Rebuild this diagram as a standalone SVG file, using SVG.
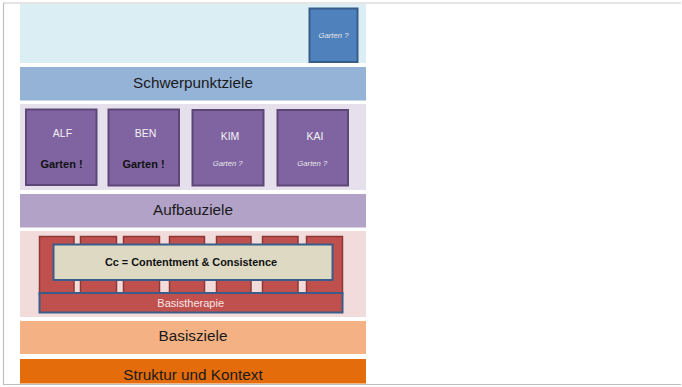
<svg xmlns="http://www.w3.org/2000/svg" width="682" height="387" viewBox="0 0 682 387">
<style>
text{font-family:"Liberation Sans",Arial,sans-serif;text-anchor:middle}
.band{font-size:15.3px;fill:#1a1a1a}
.person{fill:#8064a2;stroke:#5c4776;stroke-width:2}
.name{font-size:10.5px;fill:#f2f2f2}
.bold{font-size:11px;font-weight:bold;fill:#111}
.q{font-size:7.7px;font-style:italic;fill:#e6e6e6}
.brick{fill:#c0504d;stroke:#8c3836;stroke-width:1.5}
</style>
<rect x="0" y="0" width="682" height="387" fill="#fff"/>
<g id="frame">
<line x1="3" y1="3" x2="681" y2="3" stroke="#dcdcdc" stroke-width="1.5"/>
<line x1="3.5" y1="3" x2="3.5" y2="384.5" stroke="#c0c0c0" stroke-width="1.2"/>
<line x1="3" y1="384.5" x2="681" y2="384.5" stroke="#c0c0c0" stroke-width="1.2"/>
</g>
<g id="bands">
<rect id="top-band" x="20" y="4" width="346" height="59" fill="#daeef3"/>
<g id="schwerpunktziele"><rect x="20" y="67" width="346" height="33.5" fill="#95b3d7"/><text class="band" x="193" y="88">Schwerpunktziele</text></g>
<rect id="persons-band" x="20" y="104" width="346" height="86" fill="#e6e0ec"/>
<g id="aufbauziele"><rect x="20" y="194" width="346" height="33.5" fill="#b2a2c7"/><text class="band" x="193" y="214.5">Aufbauziele</text></g>
<rect id="therapy-band" x="20" y="231" width="346" height="86" fill="#f2dcdb"/>
<g id="basisziele"><rect x="20" y="321" width="346" height="33" fill="#f4b183"/><text class="band" x="193" y="340.5">Basisziele</text></g>
<g id="struktur"><rect x="20" y="359" width="346" height="24.5" fill="#e46c0a"/><text class="band" x="193" y="379.5">Struktur und Kontext</text></g>
</g>
<g id="garten-top"><rect x="309.5" y="8.5" width="48" height="53.5" fill="#4f81bd" stroke="#385d8a" stroke-width="2"/><text class="q" x="333.5" y="37.5">Garten ?</text></g>
<g id="alf"><rect class="person" x="26" y="109.5" width="70.5" height="75.5"/><text class="name" x="62.5" y="137.3">ALF</text><text class="bold" x="61.5" y="167.7">Garten !</text></g>
<g id="ben"><rect class="person" x="108.5" y="109.5" width="70.5" height="76"/><text class="name" x="145.5" y="137.3">BEN</text><text class="bold" x="143.5" y="167.7">Garten !</text></g>
<g id="kim"><rect class="person" x="192.5" y="110" width="71" height="75.5"/><text class="name" x="230" y="140">KIM</text><text class="q" x="227.7" y="165.7">Garten ?</text></g>
<g id="kai"><rect class="person" x="277.5" y="110" width="70.5" height="75.5"/><text class="name" x="315" y="140">KAI</text><text class="q" x="312.3" y="165.7">Garten ?</text></g>
<g id="bricks">
<rect class="brick" x="39.5" y="236.5" width="34.5" height="58"/>
<rect class="brick" x="80.5" y="236.5" width="36" height="58"/>
<rect class="brick" x="123.5" y="236.5" width="36" height="58"/>
<rect class="brick" x="169.5" y="236.5" width="35" height="58"/>
<rect class="brick" x="216.5" y="236.5" width="34.5" height="58"/>
<rect class="brick" x="262.5" y="236.5" width="35.5" height="58"/>
<rect class="brick" x="306.5" y="236.5" width="36" height="58"/>
</g>
<g id="cc"><rect x="53.5" y="244.5" width="279" height="35.5" fill="#ddd9c3" stroke="#385d8a" stroke-width="2"/><text x="191" y="266.3" style="font-size:10.9px;font-weight:bold;fill:#111">Cc = Contentment &amp; Consistence</text></g>
<g id="basistherapie"><rect x="39.5" y="293" width="303" height="19.5" fill="#c0504d" stroke="#385d8a" stroke-width="2"/><text x="190.7" y="307.3" style="font-size:11px;fill:#f6e6e6">Basistherapie</text></g>
</svg>
